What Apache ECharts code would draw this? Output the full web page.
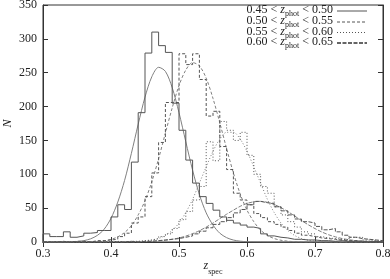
<!DOCTYPE html>
<html><head><meta charset="utf-8">
<script src="https://cdn.jsdelivr.net/npm/echarts@6/dist/echarts.min.js"></script>
<style>html,body{margin:0;padding:0;background:#fff}#c{width:390px;height:279px}</style>
</head><body><div id="c"></div>
<script>
// bin left edges (z_spec)
const zBins = [0.30,0.31,0.32,0.33,0.34,0.35,0.36,0.37,0.38,0.39,
               0.40,0.41,0.42,0.43,0.44,0.45,0.46,0.47,0.48,0.49,
               0.50,0.51,0.52,0.53,0.54,0.55,0.56,0.57,0.58,0.59,
               0.60,0.61,0.62,0.63,0.64,0.65,0.66,0.67,0.68,0.69,
               0.70,0.71,0.72,0.73,0.74,0.75,0.76,0.77,0.78,0.79];
const zEnd = 0.80;
// histograms (N per bin)
const histA = [12,8,8,15,7,9,13,14,17,17, 37,55,48,118,191,279,310,290,280,205, 165,121,87,67,57,47,37,32,28,25, 22,20,12,9,7,6,4,4,3,3, 2,2,1,2,1,1,1,0,1,0];
const histB = [0,0,1,0,1,1,0,2,2,3, 4,8,13,28,37,67,102,147,206,206, 278,262,278,240,186,193,141,107,72,62, 55,42,36,30,26,22,17,13,10,8, 6,5,4,3,2,2,1,1,1,0];
const histC = [0,0,0,0,0,0,0,0,0,0, 1,0,1,1,2,3,5,8,12,20, 33,45,62,82,148,120,178,165,150,162, 128,100,82,72,52,40,30,22,15,12, 8,6,5,4,3,7,7,3,2,1];
const histD = [0,0,0,0,0,0,0,0,0,0, 0,0,1,0,1,1,2,3,4,5, 7,9,12,16,21,26,30,36,43,48, 55,60,58,57,52,46,40,34,30,28, 23,18,20,15,10,7,5,4,3,2];
// fitted curves sampled at z = 0.30 ... 0.80
const curveZ = [0.30,0.31,0.32,0.33,0.34,0.35,0.36,0.37,0.38,0.39,
                0.40,0.41,0.42,0.43,0.44,0.45,0.46,0.47,0.48,0.49,
                0.50,0.51,0.52,0.53,0.54,0.55,0.56,0.57,0.58,0.59,
                0.60,0.61,0.62,0.63,0.64,0.65,0.66,0.67,0.68,0.69,
                0.70,0.71,0.72,0.73,0.74,0.75,0.76,0.77,0.78,0.79,0.80];
const curveA = [0,0,0,0.1,0.3,0.8,2,4.7,9.8,19, 35,59,91,131,174,214,244,258,252,228, 191,148,106,70,43,25,13,6.4,2.9,1.2, 0.5,0.2,0.1,0,0,0,0,0,0,0, 0,0,0,0,0,0,0,0,0,0,0];
const curveB = [0,0,0,0,0,0.1,0.2,0.4,0.9,1.9, 3.9,7.6,14,24,40,61,89,123,161,198, 231,254,265,260,242,212,176,138,102,71, 47,30,17.5,9.8,5.1,2.6,1.2,0.5,0.2,0, 0,0,0,0,0,0,0,0,0,0,0];
const curveC = [0,0,0,0,0,0,0,0,0,0, 0,0,0.1,0.2,0.5,1.2,2.6,5.2,9.7,17, 28,43.5,63,87,111,134,152,162,162,152, 134,111,87,63,43.5,28,17,9.7,5.2,2.6, 1.2,0.5,0.2,0.1,0,0,0,0,0,0,0];
const curveD = [0,0,0,0,0,0,0,0,0,0, 0,0,0,0,0,0.6,1,1.6,2.6,4, 6,8.7,12.3,16.7,22,28,34.5,41,47,52.7, 57,59.3,60,58.6,55.4,50.7,45,38.4,31.8,25.5, 19.8,14.8,10.7,7.6,5.1,3.4,2.1,1.3,0.8,0.5,0.3];
// legend ranges of z_phot
const legendLo = ['0.45','0.50','0.55','0.60'];
const legendHi = ['0.50','0.55','0.60','0.65'];
// axis ticks
const xTicks = [0.3,0.4,0.5,0.6,0.7,0.8];
const yTicks = [0,50,100,150,200,250,300,350];

const FONT = 'Liberation Serif';
const dashes = [null,[3,2],[1,2],[4,1.5]];
const histColor = '#555', curveColor = '#808080';

function histData(h){
  const d = [[zBins[0],0]];
  h.forEach((v,i)=>d.push([zBins[i],v]));
  d.push([zEnd,0]);
  return d;
}
function curveData(c){ return c.map((v,i)=>[curveZ[i],v]); }

const hists = [histA,histB,histC,histD];
const curves = [curveA,curveB,curveC,curveD];
const series = [];
hists.forEach((h,k)=>{
  series.push({type:'line', step:'end', data:histData(h), showSymbol:false, silent:true,
    lineStyle:{color:histColor, width:1, type: dashes[k]||'solid'}, z: 3});
});
curves.forEach((c,k)=>{
  series.push({type:'line', smooth:0.3, data:curveData(c), showSymbol:false, silent:true,
    lineStyle:{color:curveColor, width:1, type: dashes[k]||'solid'}, z: 2});
});

const xStep = +(xTicks[1]-xTicks[0]).toFixed(2);
const yStep = yTicks[1]-yTicks[0];
const baseAxisX = {type:'value', min:xTicks[0], max:xTicks[xTicks.length-1], interval:xStep};
const baseAxisY = {type:'value', min:yTicks[0], max:yTicks[yTicks.length-1], interval:yStep};
const lineSt = {show:true, lineStyle:{color:'#333', width:1}};
const tickSt = {show:true, inside:true, length:5, lineStyle:{color:'#333', width:1}};

const graphic = [];
const rowY = [11,22,32.5,43];
legendLo.forEach((lo,k)=>{
  graphic.push({type:'text', x:333, y:rowY[k], style:{
    text:'{n|'+lo+' < }{i|z}{s|phot}{n| < '+legendHi[k]+'}',
    align:'right', verticalAlign:'middle', fill:'#222',
    rich:{
      n:{fontFamily:FONT, fontSize:12, fill:'#222', lineHeight:14, verticalAlign:'top'},
      i:{fontFamily:FONT, fontSize:12, fontStyle:'italic', fill:'#222', lineHeight:14, verticalAlign:'top'},
      s:{fontFamily:FONT, fontSize:8, fill:'#222', lineHeight:14, verticalAlign:'bottom'}
    }}});
  graphic.push({type:'line', shape:{x1:337,y1:rowY[k],x2:367,y2:rowY[k]},
    style:{stroke: k===3 ? '#333' : '#555', lineWidth: k===3 ? 1.5 : 1, lineDash: dashes[k]||null}});
});

const option = {
  animation:false,
  backgroundColor:'#fff',
  grid:{left:43, right:7, top:5, bottom:37, show:true, borderColor:'#333', borderWidth:1,
        containLabel:false, outerBoundsMode:'none'},
  xAxis:[
    Object.assign({}, baseAxisX, {position:'bottom',
      name:'{i|z}{s|spec}', nameLocation:'middle', nameGap:18, nameMoveOverlap:false,
      nameTextStyle:{rich:{
        i:{fontFamily:FONT, fontSize:12, fontStyle:'italic', color:'#222', lineHeight:16, verticalAlign:'top'},
        s:{fontFamily:FONT, fontSize:8, color:'#222', lineHeight:16, verticalAlign:'bottom'}}},
      axisLine:lineSt, axisTick:tickSt, splitLine:{show:false},
      axisLabel:{margin:6, fontFamily:FONT, fontSize:12, color:'#222', formatter:v=>v.toFixed(1)}}),
    Object.assign({}, baseAxisX, {position:'top', axisLine:lineSt, axisTick:tickSt,
      axisLabel:{show:false}, splitLine:{show:false}})
  ],
  yAxis:[
    Object.assign({}, baseAxisY, {position:'left',
      name:'N', nameLocation:'middle', nameGap:29, nameRotate:90, nameMoveOverlap:false,
      nameTextStyle:{fontFamily:FONT, fontSize:12, fontStyle:'italic', color:'#222'},
      axisLine:lineSt, axisTick:tickSt, splitLine:{show:false},
      axisLabel:{margin:6, fontFamily:FONT, fontSize:12, color:'#222'}}),
    Object.assign({}, baseAxisY, {position:'right', axisLine:lineSt, axisTick:tickSt,
      axisLabel:{show:false}, splitLine:{show:false}})
  ],
  series: series,
  graphic: graphic
};
const chart = echarts.init(document.getElementById('c'), null, {renderer:'canvas'});
chart.setOption(option);
</script></body></html>
